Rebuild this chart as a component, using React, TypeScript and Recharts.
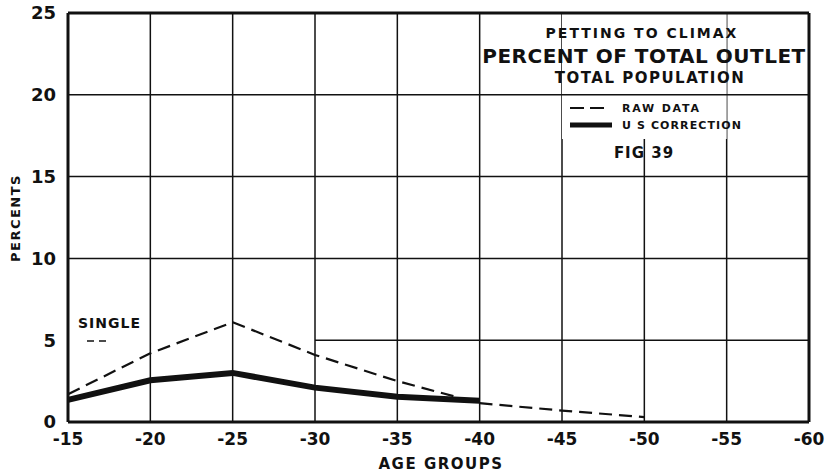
import {
  CartesianGrid,
  Line,
  LineChart,
  ReferenceArea,
  ReferenceLine,
  XAxis,
  YAxis,
} from "recharts";

const ageGroups = ["-15", "-20", "-25", "-30", "-35", "-40", "-45", "-50", "-55", "-60"];
const rawData = [1.7, 4.2, 6.1, 4.1, 2.5, 1.15, 0.7, 0.3, null, null];
const usCorrection = [1.35, 2.55, 3.0, 2.1, 1.55, 1.3, null, null, null, null];
const yTicks = [0, 5, 10, 15, 20, 25];

const data = ageGroups.map((age, i) => ({
  age,
  raw: rawData[i],
  us: usCorrection[i],
}));

const FONT = "'DejaVu Sans', 'Open Sans', sans-serif";

export default function App() {
  return (
    <div style={{ position: "absolute", left: 0, top: 0, width: 826, height: 475, background: "#fff" }}>
      <LineChart
        width={826}
        height={475}
        data={data}
        margin={{ top: 13, right: 17, left: 0, bottom: 23 }}
      >
        <CartesianGrid stroke="#111" strokeWidth={1.5} horizontal={false} />
        <ReferenceLine y={20} stroke="#111" strokeWidth={1.5} />
        <ReferenceLine y={15} stroke="#111" strokeWidth={1.5} />
        <ReferenceLine y={10} stroke="#111" strokeWidth={1.5} />
        <ReferenceLine
          segment={[
            { x: "-30", y: 5 },
            { x: "-60", y: 5 },
          ]}
          stroke="#111"
          strokeWidth={1.5}
        />
        <ReferenceArea x1="-45" x2="-55" y1={17.3} y2={25} fill="#fff" fillOpacity={1} stroke="none" />
        <ReferenceLine y={25} stroke="#111" strokeWidth={3} />
        <ReferenceLine x="-60" stroke="#111" strokeWidth={3} />
        <XAxis
          dataKey="age"
          height={30}
          stroke="#111"
          strokeWidth={3}
          tickLine={false}
          tickSize={0}
          tickMargin={11}
          tick={{ fill: "#111", fontSize: 17, fontWeight: 700, fontFamily: FONT }}
        />
        <YAxis
          domain={[0, 25]}
          ticks={yTicks}
          width={68}
          stroke="#111"
          strokeWidth={3}
          tickLine={false}
          tickSize={0}
          tickMargin={12}
          tick={{ fill: "#111", fontSize: 18, fontWeight: 700, fontFamily: FONT }}
        />
        <Line
          type="linear"
          dataKey="raw"
          stroke="#111"
          strokeWidth={2.2}
          strokeDasharray="13 7"
          dot={false}
          isAnimationActive={false}
        />
        <Line
          type="linear"
          dataKey="us"
          stroke="#111"
          strokeWidth={6}
          dot={false}
          isAnimationActive={false}
        />
      </LineChart>
      <svg
        width={826}
        height={475}
        style={{ position: "absolute", left: 0, top: 0, pointerEvents: "none" }}
        fontFamily={FONT}
        fontWeight={700}
        fill="#111"
      >
        <text x={642} y={38} textAnchor="middle" fontSize={14} letterSpacing={2}>
          PETTING TO CLIMAX
        </text>
        <text x={644} y={63} textAnchor="middle" fontSize={20} letterSpacing={0.5}>
          PERCENT OF TOTAL OUTLET
        </text>
        <text x={650} y={83} textAnchor="middle" fontSize={15} letterSpacing={1.5}>
          TOTAL POPULATION
        </text>
        <line x1={570} y1={108} x2={608} y2={108} stroke="#111" strokeWidth={2} strokeDasharray="14 6" />
        <text x={622} y={112} fontSize={11} letterSpacing={1.8}>
          RAW DATA
        </text>
        <line x1={570} y1={125} x2={612} y2={125} stroke="#111" strokeWidth={5} />
        <text x={622} y={129} fontSize={11} letterSpacing={1.1}>
          U S CORRECTION
        </text>
        <text x={644} y={158} textAnchor="middle" fontSize={15} letterSpacing={1}>
          FIG 39
        </text>
        <text x={78} y={328} fontSize={14} letterSpacing={1}>
          SINGLE
        </text>
        <line x1={87} y1={341} x2={108} y2={341} stroke="#111" strokeWidth={1.5} strokeDasharray="7 5" />
        <text
          x={0}
          y={0}
          transform="translate(20 218) rotate(-90)"
          textAnchor="middle"
          fontSize={13}
          letterSpacing={1.5}
        >
          PERCENTS
        </text>
        <text x={441} y={469} textAnchor="middle" fontSize={15} letterSpacing={1.5}>
          AGE{"  "}GROUPS
        </text>
      </svg>
    </div>
  );
}
